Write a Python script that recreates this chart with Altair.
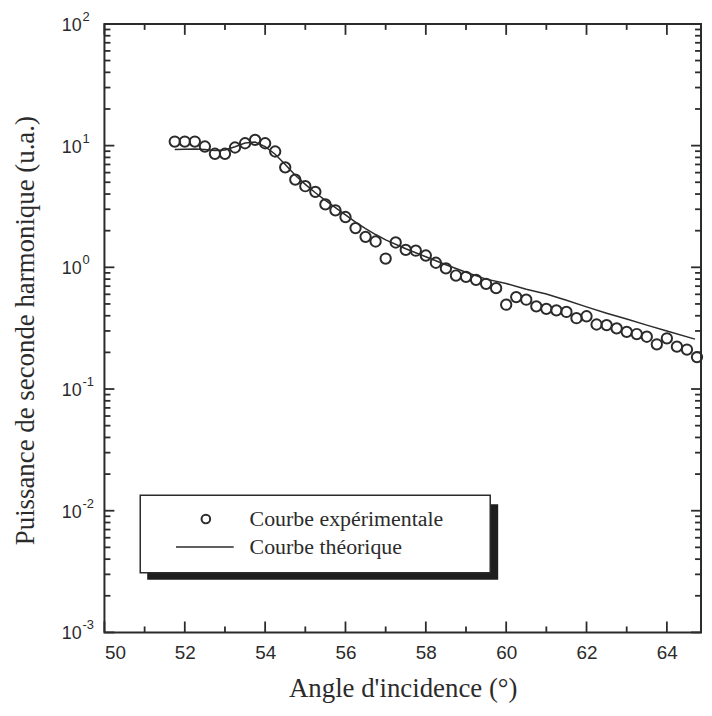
import altair as alt
import pandas as pd

# ---------------- data ----------------
exp_angles = [51.75, 52.0, 52.25, 52.5, 52.75, 53.0, 53.25, 53.5, 53.75, 54.0,
              54.25, 54.5, 54.75, 55.0, 55.25, 55.5, 55.75, 56.0, 56.25, 56.5,
              56.75, 57.0, 57.25, 57.5, 57.75, 58.0, 58.25, 58.5, 58.75, 59.0,
              59.25, 59.5, 59.75, 60.0, 60.25, 60.5, 60.75, 61.0, 61.25, 61.5,
              61.75, 62.0, 62.25, 62.5, 62.75, 63.0, 63.25, 63.5, 63.75, 64.0,
              64.25, 64.5, 64.75]
exp_values = [10.8, 10.8, 10.8, 9.83, 8.57, 8.57, 9.65, 10.46, 11.15, 10.46,
              8.95, 6.63, 5.26, 4.64, 4.17, 3.29, 2.94, 2.59, 2.10, 1.78,
              1.63, 1.18, 1.60, 1.39, 1.37, 1.25, 1.09, 0.98, 0.856, 0.835,
              0.789, 0.732, 0.674, 0.493, 0.569, 0.542, 0.478, 0.456, 0.443, 0.430,
              0.382, 0.396, 0.339, 0.335, 0.315, 0.295, 0.283, 0.269, 0.233, 0.261,
              0.223, 0.211, 0.183]

theo_angles = [51.75, 52.0, 52.25, 52.5, 52.75, 53.0, 53.25, 53.5, 53.75, 54.0,
               54.25, 54.5, 54.75, 55.0, 55.25, 55.5, 55.75, 56.0, 56.25, 56.5,
               56.75, 57.0, 57.5, 58.0, 58.5, 59.0, 59.5, 60.0, 60.5, 61.0,
               61.5, 62.0, 62.5, 63.0, 63.5, 64.0, 64.7]
theo_values = [9.3, 9.35, 9.4, 9.3, 9.1, 9.2, 9.8, 10.5, 10.7, 9.8,
               8.5, 7.0, 5.7, 4.8, 4.1, 3.55, 3.1, 2.7, 2.35, 2.08,
               1.86, 1.68, 1.42, 1.22, 1.05, 0.91, 0.80, 0.736, 0.66, 0.603,
               0.537, 0.473, 0.42, 0.376, 0.335, 0.30, 0.257]

x_major = [50, 52, 54, 56, 58, 60, 62, 64]
x_minor = [51, 53, 55, 57, 59, 61, 63]
y_major = [0.001, 0.01, 0.1, 1, 10, 100]
y_exponents = ["-3", "-2", "-1", "0", "1", "2"]
y_minor = [m * d for d in [0.001, 0.01, 0.1, 1, 10] for m in [2, 3, 4, 5, 6, 7, 8, 9]]

legend_labels = ["Courbe expérimentale", "Courbe théorique"]
x_title = "Angle d'incidence (°)"
y_title = "Puissance de seconde harmonique (u.a.)"

# ---------------- style ----------------
W, H = 600, 612
INK = "#2b2b2b"
SANS = "Liberation Sans, Arial, sans-serif"
SERIF = "Liberation Serif, Times New Roman, serif"

exp_df = pd.DataFrame({"angle": exp_angles, "value": exp_values})
theo_df = pd.DataFrame({"angle": theo_angles, "value": theo_values})
xmaj_df = pd.DataFrame({"angle": x_major})
xmin_df = pd.DataFrame({"angle": x_minor})
ymaj_df = pd.DataFrame({"value": y_major, "exp": y_exponents, "base": ["10"] * len(y_major)})
ymin_df = pd.DataFrame({"value": y_minor})
one = pd.DataFrame({"k": [0]})

xs = alt.Scale(domain=[50, 64.85], nice=False, zero=False)
ys = alt.Scale(type="log", domain=[0.001, 100], nice=False)

X = lambda: alt.X("angle:Q", scale=xs)
Y = lambda: alt.Y("value:Q", scale=ys)

points = alt.Chart(exp_df).mark_point(
    shape="circle", filled=False, size=108, strokeWidth=2, color=INK, opacity=1
).encode(
    x=alt.X("angle:Q", scale=xs, axis=alt.Axis(
        values=x_major, format="d", ticks=False, tickSize=0, domain=False, grid=False,
        labelFont=SANS, labelFontSize=19, labelColor=INK, labelPadding=11,
        title=x_title, titleFont=SERIF, titleFontSize=27, titleFontWeight="normal",
        titleColor=INK, titleX=W / 2, titleY=64, titleBaseline="alphabetic")),
    y=alt.Y("value:Q", scale=ys, axis=alt.Axis(
        values=y_major, labels=False, ticks=False, tickSize=0, domain=False, grid=False,
        title=y_title, titleFont=SERIF, titleFontSize=27, titleFontWeight="normal",
        titleColor=INK, titleX=-79, titleY=H / 2 + 2, titleAngle=-90,
        titleAlign="center", titleBaseline="middle")),
)

theory = alt.Chart(theo_df).mark_line(color=INK, strokeWidth=1.5).encode(x=X(), y=Y())

tick_w = 1.8
bx_maj = alt.Chart(xmaj_df).mark_rule(color=INK, strokeWidth=tick_w).encode(x=X(), y=alt.value(H), y2=alt.value(H - 11))
bx_min = alt.Chart(xmin_df).mark_rule(color=INK, strokeWidth=tick_w).encode(x=X(), y=alt.value(H), y2=alt.value(H - 6))
tx_maj = alt.Chart(xmaj_df).mark_rule(color=INK, strokeWidth=tick_w).encode(x=X(), y=alt.value(0), y2=alt.value(11))
tx_min = alt.Chart(xmin_df).mark_rule(color=INK, strokeWidth=tick_w).encode(x=X(), y=alt.value(0), y2=alt.value(6))
ly_maj = alt.Chart(ymaj_df).mark_rule(color=INK, strokeWidth=tick_w).encode(y=Y(), x=alt.value(0), x2=alt.value(10))
ly_min = alt.Chart(ymin_df).mark_rule(color=INK, strokeWidth=tick_w).encode(y=Y(), x=alt.value(0), x2=alt.value(6))
ry_maj = alt.Chart(ymaj_df).mark_rule(color=INK, strokeWidth=tick_w).encode(y=Y(), x=alt.value(W), x2=alt.value(W - 10))
ry_min = alt.Chart(ymin_df).mark_rule(color=INK, strokeWidth=tick_w).encode(y=Y(), x=alt.value(W), x2=alt.value(W - 6))

ylab_base = alt.Chart(ymaj_df).mark_text(
    align="right", baseline="middle", font=SANS, fontSize=18, color=INK, dy=2
).encode(y=Y(), x=alt.value(-23), text="base:N")
ylab_exp = alt.Chart(ymaj_df).mark_text(
    align="left", baseline="middle", font=SANS, fontSize=13, color=INK, dy=-7
).encode(y=Y(), x=alt.value(-22), text="exp:N")

# legend box with drop shadow
shadow = alt.Chart(one).mark_rect(color="#1e1e1e").encode(
    x=alt.value(43), x2=alt.value(396), y=alt.value(483), y2=alt.value(559))
box = alt.Chart(one).mark_rect(fill="white", stroke=INK, strokeWidth=1.5).encode(
    x=alt.value(36), x2=alt.value(388), y=alt.value(474), y2=alt.value(552))
leg_pt = alt.Chart(one).mark_point(shape="circle", filled=False, size=75, strokeWidth=2, color=INK, opacity=1).encode(
    x=alt.value(102), y=alt.value(498))
leg_ln = alt.Chart(one).mark_rule(color=INK, strokeWidth=1.5).encode(
    x=alt.value(72), x2=alt.value(130), y=alt.value(526))
leg_t1 = alt.Chart(one).mark_text(align="left", baseline="middle", font=SERIF, fontSize=22, color=INK).encode(
    x=alt.value(146), y=alt.value(498), text=alt.value(legend_labels[0]))
leg_t2 = alt.Chart(one).mark_text(align="left", baseline="middle", font=SERIF, fontSize=22, color=INK).encode(
    x=alt.value(146), y=alt.value(526), text=alt.value(legend_labels[1]))

chart = alt.layer(
    points, theory, bx_maj, bx_min, tx_maj, tx_min, ly_maj, ly_min, ry_maj, ry_min,
    ylab_base, ylab_exp, shadow, box, leg_pt, leg_ln, leg_t1, leg_t2
).properties(
    width=W, height=H,
    padding={"left": 97, "top": 14, "right": 3, "bottom": 74},
    autosize=alt.AutoSizeParams(type="none"),
    background="white",
).configure_view(stroke=INK, strokeWidth=2)

chart.save("out.html", embed_options={"renderer": "svg", "actions": False})
